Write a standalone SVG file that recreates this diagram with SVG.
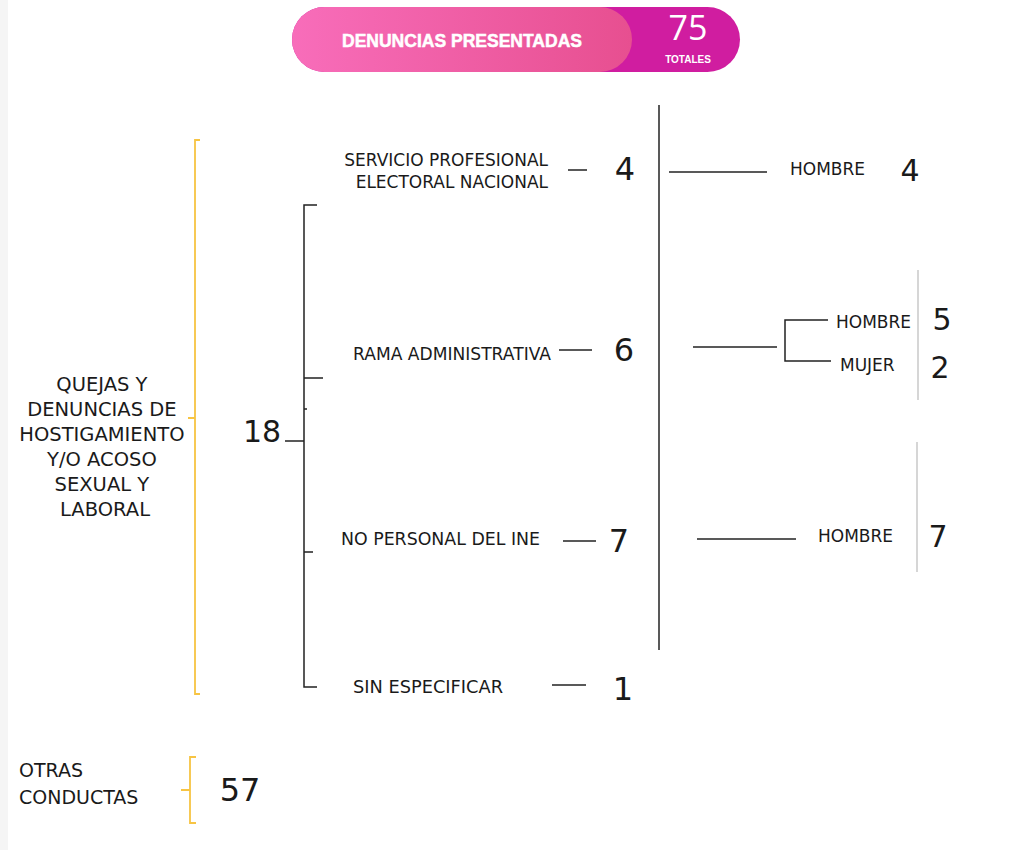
<svg xmlns="http://www.w3.org/2000/svg" width="1023" height="850" viewBox="0 0 1023 850">
<defs>
<linearGradient id="pinkGrad" x1="0" y1="0" x2="1" y2="0">
<stop offset="0" stop-color="#f86dba"/>
<stop offset="1" stop-color="#e74f90"/>
</linearGradient>
<style>
.t{font-family:"DejaVu Sans","Verdana",sans-serif;fill:#1a1a1a;}
.lbl{font-size:17px;}
.big{font-size:32px;}
.num{font-size:30px;}
.q{font-size:19.5px;}
.ln{stroke:#222;stroke-width:1.5;fill:none;}
.gr{stroke:#c8c8c8;stroke-width:1.5;fill:none;}
.yb{stroke:#f7c443;stroke-width:1.8;fill:none;}
</style>
</defs>
<rect width="1023" height="850" fill="#ffffff"/>
<rect x="0" y="0" width="8" height="850" fill="#f5f5f5"/>

<g id="banner">
<rect x="292" y="7" width="448" height="65" rx="32.5" fill="#d01da0"/>
<rect x="292" y="7" width="340" height="65" rx="32.5" fill="url(#pinkGrad)"/>
<text x="462" y="47" text-anchor="middle" font-family="'Liberation Sans',Arial,sans-serif" font-weight="bold" font-size="18" fill="#fff" stroke="#fff" stroke-width="0.5" textLength="240" lengthAdjust="spacingAndGlyphs">DENUNCIAS PRESENTADAS</text>
<text x="688" y="40" text-anchor="middle" font-family="'Open Sans','DejaVu Sans',sans-serif" font-size="34" fill="#fff">75</text>
<text x="688" y="63" text-anchor="middle" font-family="'Liberation Sans',Arial,sans-serif" font-weight="bold" font-size="10" fill="#fff">TOTALES</text>
</g>

<g id="connectors">
<path class="yb" d="M200,140 H195 V694 H200 M195,418 H188"/>
<path class="yb" d="M196,757 H190 V823 H196 M190,790 H181"/>
<path class="ln" d="M285,441 H304"/>
<path class="ln" d="M317,205 H304 V687 H317 M304,378 H323 M304,409 H307 M304,552 H313"/>
<path class="ln" d="M659,105 V650"/>
<path class="ln" d="M568,170 H587"/>
<path class="ln" d="M559,350 H592"/>
<path class="ln" d="M563,541 H596"/>
<path class="ln" d="M552,685 H586"/>
<path class="ln" d="M669,172 H767"/>
<path class="ln" d="M693,347 H777"/>
<path class="ln" d="M828,320 H785 V361 H831"/>
<path class="ln" d="M697,539 H796"/>
<path class="gr" d="M918,270 V400"/>
<path class="gr" d="M917,442 V572"/>
</g>

<g id="node-quejas">
<text class="t q" text-anchor="middle" x="105">
<tspan x="105" y="391">QUEJAS Y</tspan>
<tspan x="105" y="416">DENUNCIAS DE</tspan>
<tspan x="105" y="441">HOSTIGAMIENTO</tspan>
<tspan x="105" y="466">Y/O ACOSO</tspan>
<tspan x="105" y="491">SEXUAL Y</tspan>
<tspan x="105" y="516">LABORAL</tspan>
</text>
</g>
<g id="node-18"><text class="t num" x="262" y="442" text-anchor="middle">18</text></g>

<g id="node-spen">
<text class="t lbl" text-anchor="end"><tspan x="548" y="166">SERVICIO PROFESIONAL</tspan><tspan x="548" y="188">ELECTORAL NACIONAL</tspan></text>
<text class="t big" x="625" y="180" text-anchor="middle">4</text>
</g>
<g id="node-rama">
<text class="t lbl" x="353" y="360" textLength="198" lengthAdjust="spacingAndGlyphs">RAMA ADMINISTRATIVA</text>
<text class="t big" x="624" y="361" text-anchor="middle">6</text>
</g>
<g id="node-nopersonal">
<text class="t lbl" x="341" y="545" textLength="199" lengthAdjust="spacingAndGlyphs">NO PERSONAL DEL INE</text>
<text class="t big" x="619" y="552" text-anchor="middle">7</text>
</g>
<g id="node-sinesp">
<text class="t lbl" x="353" y="693" textLength="150" lengthAdjust="spacingAndGlyphs">SIN ESPECIFICAR</text>
<text class="t big" x="623" y="700" text-anchor="middle">1</text>
</g>

<g id="node-hombre-spen">
<text class="t lbl" x="790" y="175">HOMBRE</text>
<text class="t num" x="910" y="181" text-anchor="middle">4</text>
</g>
<g id="node-hombre-rama">
<text class="t lbl" x="836" y="328">HOMBRE</text>
<text class="t num" x="942" y="330" text-anchor="middle">5</text>
</g>
<g id="node-mujer-rama">
<text class="t lbl" x="840" y="371">MUJER</text>
<text class="t num" x="940" y="378" text-anchor="middle">2</text>
</g>
<g id="node-hombre-nopers">
<text class="t lbl" x="818" y="542">HOMBRE</text>
<text class="t num" x="938" y="547" text-anchor="middle">7</text>
</g>

<g id="node-otras">
<text class="t" font-size="19"><tspan x="19" y="777">OTRAS</tspan><tspan x="19" y="804">CONDUCTAS</tspan></text>
<text class="t big" x="240" y="801" text-anchor="middle">57</text>
</g>
</svg>
